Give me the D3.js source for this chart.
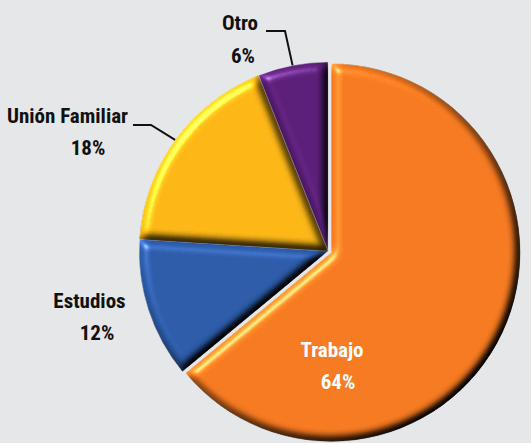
<!DOCTYPE html>
<html>
<head>
<meta charset="utf-8">
<script src="https://cdn.jsdelivr.net/npm/d3@7"></script>
<style>
  html, body { margin: 0; padding: 0; background: #e6e7e8; }
  svg { display: block; }
  text { font-family: "Liberation Sans Narrow", "Arial Narrow", "Roboto Condensed", sans-serif; font-weight: bold; font-size: 21px; }
</style>
</head>
<body>
<svg id="chart" width="531" height="443"></svg>
<script>
// ---- data ----
const categories = ["Trabajo", "Estudios", "Unión Familiar", "Otro"];
const values = [64, 12, 18, 6];
const percentLabels = ["64%", "12%", "18%", "6%"];
const colors = ["#f47920", "#2d5ba8", "#fbb616", "#5a1e78"];

// ---- layout ----
const W = 531, H = 443;
const cx = 328, cy = 251, R = 189;
const explode = [3.5, 0, 0, 0];
const labelLayout = [
  { nx: 332, ny: 357, px: 338, py: 389, fill: "#ffffff", leader: null },
  { nx: 89.5, ny: 308, px: 97, py: 340, fill: "#111111", leader: null },
  { nx: 67.5, ny: 123, px: 88, py: 155, fill: "#111111", leader: { x0: 133, x1: 151, y: 125 } },
  { nx: 240, ny: 30, px: 243, py: 63, fill: "#111111", leader: { x0: 266, x1: 285, y: 31 } }
];

const svg = d3.select("#chart");
svg.append("rect").attr("width", W).attr("height", H).attr("fill", "#e6e7e8");

const defs = svg.append("defs");
const f = defs.append("filter").attr("id", "bevel")
  .attr("color-interpolation-filters", "sRGB")
  .attr("x", "-10%").attr("y", "-10%").attr("width", "120%").attr("height", "120%");
f.append("feGaussianBlur").attr("in", "SourceAlpha").attr("stdDeviation", 5).attr("result", "blur");
const dl = f.append("feDiffuseLighting").attr("in", "blur").attr("surfaceScale", 8)
  .attr("diffuseConstant", 1).attr("lighting-color", "#ffffff").attr("result", "diff");
dl.append("feDistantLight").attr("azimuth", 225).attr("elevation", 55);
const sl = f.append("feSpecularLighting").attr("in", "blur").attr("surfaceScale", 8)
  .attr("specularConstant", 0.6).attr("specularExponent", 25).attr("lighting-color", "#ffffff").attr("result", "spec");
sl.append("feDistantLight").attr("azimuth", 225).attr("elevation", 30);
f.append("feComposite").attr("in", "SourceGraphic").attr("in2", "diff").attr("operator", "arithmetic")
  .attr("k1", 1.22).attr("k2", 0).attr("k3", 0).attr("k4", 0).attr("result", "lit");
f.append("feComposite").attr("in", "spec").attr("in2", "SourceAlpha").attr("operator", "in").attr("result", "specIn");
f.append("feComposite").attr("in", "lit").attr("in2", "specIn").attr("operator", "arithmetic")
  .attr("k1", 0).attr("k2", 1).attr("k3", 0.6).attr("k4", 0).attr("result", "sum");
f.append("feComposite").attr("in", "sum").attr("in2", "SourceAlpha").attr("operator", "in");

const pie = d3.pie().sort(null).startAngle(0).endAngle(2 * Math.PI);
const arcs = pie(values);
const arc = d3.arc().innerRadius(0).outerRadius(R);

const g = svg.append("g").attr("transform", `translate(${cx},${cy})`);

g.selectAll("path.slice")
  .data(arcs)
  .join("path")
  .attr("class", "slice")
  .attr("d", arc)
  .attr("transform", (d, i) => {
    const a = (d.startAngle + d.endAngle) / 2;
    return `translate(${explode[i] * Math.sin(a)},${-explode[i] * Math.cos(a)})`;
  })
  .attr("fill", (d, i) => colors[i])
  .attr("stroke", "rgba(255,255,255,0.5)")
  .attr("stroke-width", 1)
  .attr("filter", "url(#bevel)");

// leader lines
arcs.forEach((d, i) => {
  const L = labelLayout[i].leader;
  if (!L) return;
  const a = (d.startAngle + d.endAngle) / 2;
  const ex = cx + R * Math.sin(a), ey = cy - R * Math.cos(a);
  svg.append("path")
    .attr("d", `M${L.x0},${L.y}L${L.x1},${L.y}L${ex},${ey}`)
    .attr("fill", "none").attr("stroke", "#111").attr("stroke-width", 2);
});

// labels
arcs.forEach((d, i) => {
  const lay = labelLayout[i];
  svg.append("text").attr("x", lay.nx).attr("y", lay.ny).attr("text-anchor", "middle")
    .attr("fill", lay.fill).text(categories[i]);
  svg.append("text").attr("x", lay.px).attr("y", lay.py).attr("text-anchor", "middle")
    .attr("fill", lay.fill).text(percentLabels[i]);
});
</script>
</body>
</html>
